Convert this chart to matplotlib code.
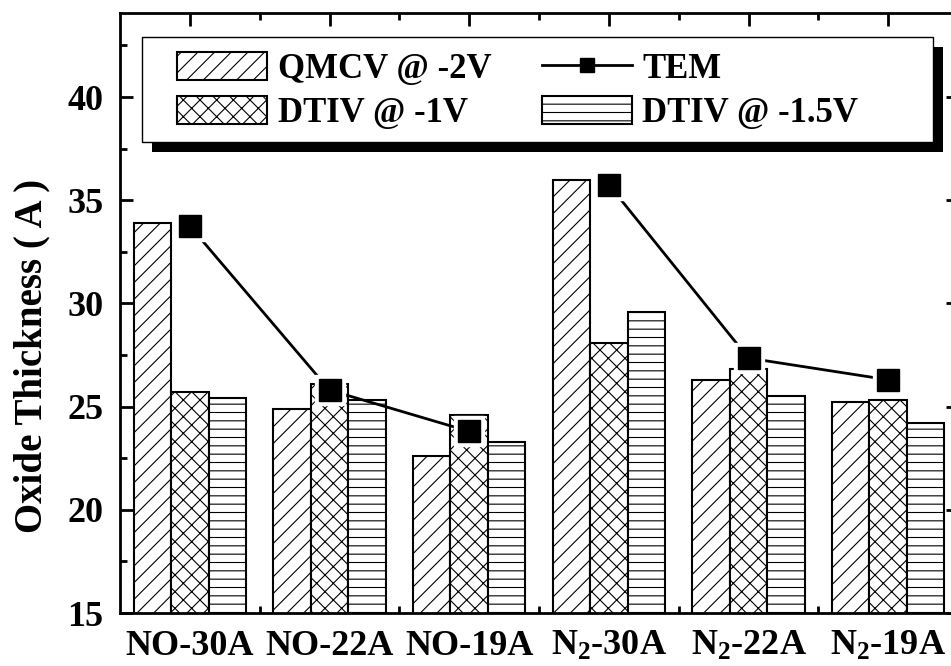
"""
Oxide thickness of NO and N2 annealed gate oxides,
QMCV / DTIV extractions as hatched bars with the TEM values on top
"""
import matplotlib
matplotlib.use("Agg")
import numpy as np
import matplotlib.pyplot as plt
import matplotlib.ticker as plticker
from matplotlib.lines import Line2D
from matplotlib.patches import Rectangle

SAMPLES = ["NO-30A", "NO-22A", "NO-19A", r"N$_2$-30A", r"N$_2$-22A", r"N$_2$-19A"]
QMCV_2V = [33.9, 24.9, 22.6, 36.0, 26.3, 25.2]
DTIV_1V = [25.7, 26.1, 24.6, 28.1, 26.8, 25.3]
DTIV_15V = [25.4, 25.3, 23.3, 29.6, 25.5, 24.2]
TEM = [33.75, 25.8, 23.8, 35.75, 27.35, 26.3]


def main():
    plt.rcParams["font.family"] = "Liberation Serif"
    plt.rcParams["font.weight"] = "bold"
    plt.rcParams["axes.labelweight"] = "bold"
    plt.rcParams["mathtext.fontset"] = "custom"
    plt.rcParams["mathtext.rm"] = "Liberation Serif:bold"
    plt.rcParams["mathtext.it"] = "Liberation Serif:bold"
    plt.rcParams["mathtext.bf"] = "Liberation Serif:bold"
    plt.rcParams["hatch.linewidth"] = 0.8

    fig = plt.figure(figsize=(9.51, 6.66), dpi=100)
    ax = fig.add_axes([120 / 951, 1 - 613 / 666, 838 / 951, 600 / 666])

    x = np.arange(len(SAMPLES))
    width = 0.268
    bar_kw = dict(width=width, color="white", edgecolor="black", linewidth=1.5, zorder=2)
    b1 = ax.bar(x - width, QMCV_2V, hatch="//", **bar_kw)
    b2 = ax.bar(x, DTIV_1V, hatch="xx", **bar_kw)
    b3 = ax.bar(x + width, DTIV_15V, hatch="--", **bar_kw)

    # TEM: NO and N2 series drawn separately, white halo keeps the line
    # short of the squares
    tem = np.array(TEM)
    for sl in (slice(0, 3), slice(3, 6)):
        ax.plot(x[sl], tem[sl], "-", color="black", linewidth=2, zorder=3)
    ax.plot(x, tem, "s", color="white", markersize=21, zorder=4)
    ax.plot(x, tem, "s", color="black", markersize=16.5, zorder=5)
    tem_handle = Line2D([], [], color="black", linewidth=2, marker="s", markersize=16.5)

    ax.set_xlim(-0.5, 5.5)
    ax.set_ylim(15, 44.07)
    ax.set_xticks(x)
    ax.set_xticklabels(SAMPLES)
    ax.xaxis.set_minor_locator(plticker.FixedLocator(x[:-1] + 0.5))
    ax.yaxis.set_major_locator(plticker.MultipleLocator(5))
    ax.yaxis.set_minor_locator(plticker.MultipleLocator(2.5))
    ax.tick_params(which="major", direction="in", length=9, width=2,
                   top=True, right=True, pad=12)
    ax.tick_params(which="minor", direction="in", length=5, width=2,
                   top=True, right=True)
    ax.tick_params(axis="y", labelsize=26)
    ax.tick_params(axis="x", labelsize=26)
    for spine in ax.spines.values():
        spine.set_linewidth(2)

    ax.set_ylabel("Oxide Thickness ( A )", fontsize=28)
    ax.yaxis.set_label_coords(-0.083, 0.428)

    # legend box with a solid drop shadow
    frame_x, frame_y, frame_w, frame_h = 0.026, 0.785, 0.944, 0.175
    ax.add_patch(Rectangle((frame_x + 0.012, frame_y - 0.0167), frame_w, frame_h,
                           transform=ax.transAxes, facecolor="black",
                           edgecolor="none", zorder=6, clip_on=False))
    ax.add_patch(Rectangle((frame_x, frame_y), frame_w, frame_h,
                           transform=ax.transAxes, facecolor="white",
                           edgecolor="black", linewidth=1, zorder=6.5, clip_on=False))
    leg = ax.legend([b1, b2, tem_handle, b3],
                    ["QMCV @ -2V", "DTIV @ -1V", "TEM", "DTIV @ -1.5V"],
                    ncol=2, loc="upper left", bbox_to_anchor=(0.068, 0.935),
                    frameon=False, borderpad=0, borderaxespad=0,
                    handlelength=2.6, handleheight=0.86, handletextpad=0.3,
                    columnspacing=1.45, labelspacing=0.3, fontsize=25,
                    markerscale=0.65)
    leg.set_zorder(7)

    fig.savefig("out.png", dpi=100)


if __name__ == "__main__":
    main()
